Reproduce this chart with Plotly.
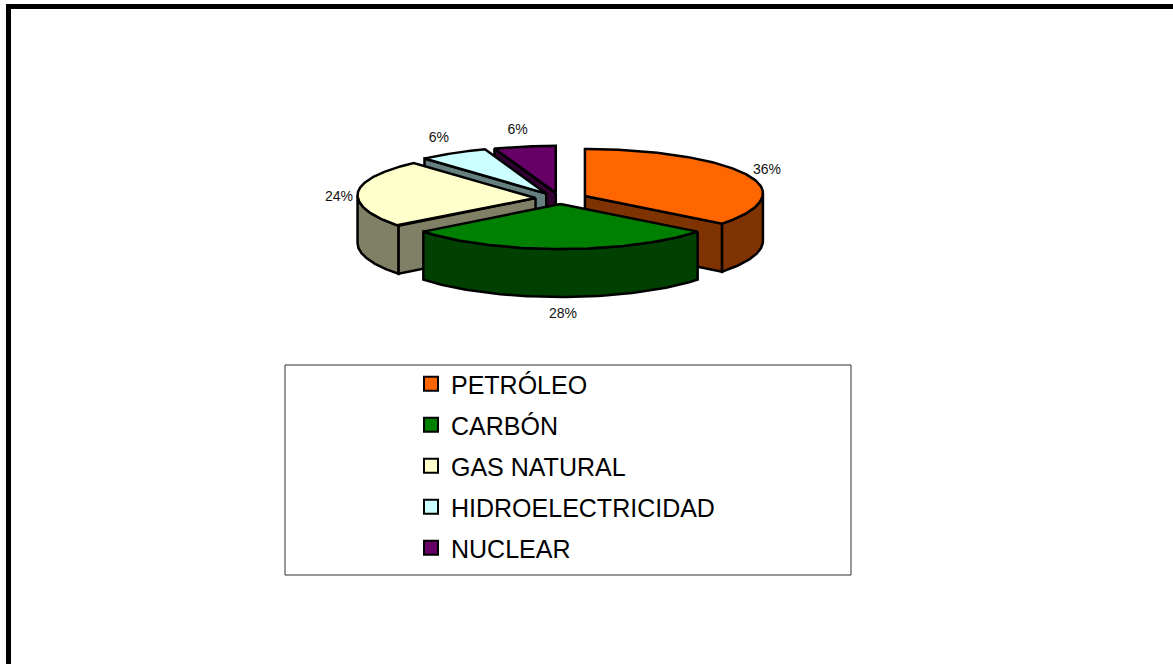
import numpy as np
import plotly.graph_objects as go

# ---- data ----
categories = ["PETRÓLEO", "CARBÓN", "GAS NATURAL", "HIDROELECTRICIDAD", "NUCLEAR"]
values = [36, 28, 24, 6.4, 5.6]

# ---- styles ----
top_colors = ["#FF6600", "#008000", "#FFFFCC", "#CCFFFF", "#660066"]
side_colors = ["#7F3300", "#004000", "#808066", "#668080", "#330033"]
W, H = 1173, 664
CX, CY = 560.5, 198.4      # pie centre
RX = 178                   # top ellipse radius, horizontal
RY_BACK, RY_FRONT = 44, 48 # perspective: the near half looks a little deeper
DEPTH = 48
RIM_SHIFT = -3             # apparent ellipse centre vs apex (perspective)
EXPLODE = [27, 27, 25, 27, 27]
K = 0.208
label_offsets = [(21, -4), (2.5, 65), (-19, 5), (-14, -15), (-7, -16)]
draw_order = [4, 3, 0, 2, 1]

fig = go.Figure()


def rad(d):
    return np.deg2rad(d)


def rim(ax, ay, theta):
    t = rad(np.asarray(theta, dtype=float))
    c = np.cos(t)
    return ax + RX * np.sin(t), ay + RIM_SHIFT - np.where(c > 0, RY_BACK, RY_FRONT) * c


def poly(xs, ys, fill):
    fig.add_trace(go.Scatter(x=list(xs), y=list(ys), mode="lines", fill="toself",
                             fillcolor=fill, line=dict(color="black", width=2.5),
                             showlegend=False, hoverinfo="skip"))


total = sum(values)
edges = np.concatenate([[0], np.cumsum(values)]) / total * 360
geo = []
for i in range(len(values)):
    a0, a1 = edges[i], edges[i + 1]
    mid = (a0 + a1) / 2
    ax = CX + EXPLODE[i] * np.sin(rad(mid))
    ay = CY - EXPLODE[i] * K * np.cos(rad(mid))
    geo.append((a0, a1, mid, ax, ay))

for i in draw_order:
    a0, a1, mid, ax, ay = geo[i]
    # radial walls that face the viewer
    for ang, visible in ((a0, -np.sin(rad(a0)) > 1e-6), (a1, np.sin(rad(a1)) > 1e-6)):
        if visible:
            rx_, ry_ = rim(ax, ay, ang)
            poly([ax, float(rx_), float(rx_), ax, ax],
                 [ay, float(ry_), float(ry_) + DEPTH, ay + DEPTH, ay], side_colors[i])
    # outer wall (front half of the ellipse only)
    lo, hi = max(a0, 90), min(a1, 270)
    if hi > lo:
        th = np.linspace(lo, hi, 80)
        xs, ys = rim(ax, ay, th)
        poly(np.concatenate([xs, xs[::-1], xs[:1]]),
             np.concatenate([ys, ys[::-1] + DEPTH, ys[:1]]), side_colors[i])
    # top face
    th = np.linspace(a0, a1, 120)
    xs, ys = rim(ax, ay, th)
    poly(np.concatenate([[ax], xs, [ax]]), np.concatenate([[ay], ys, [ay]]), top_colors[i])

# percentage labels
lx, ly, lt = [], [], []
for i, (a0, a1, mid, ax, ay) in enumerate(geo):
    px, py = rim(ax, ay, mid)
    lx.append(float(px) + label_offsets[i][0])
    ly.append(float(py) + label_offsets[i][1])
    lt.append(f"{round(values[i] / total * 100)}%")
fig.add_trace(go.Scatter(x=lx, y=ly, text=lt, mode="text", showlegend=False, hoverinfo="skip",
                         textfont=dict(family="Liberation Sans", size=14, color="#111111")))

# legend entries
for name, col in zip(categories, top_colors):
    fig.add_trace(go.Scatter(x=[None], y=[None], mode="markers", name=name, legendgroup=name,
                             marker=dict(symbol="square", size=14, color=col,
                                         line=dict(color="black", width=2))))

shapes = [
    # legend frame
    dict(type="rect", xref="x", yref="y", x0=285, x1=851, y0=365, y1=575,
         line=dict(color="#333333", width=1), fillcolor="rgba(0,0,0,0)", layer="below"),
    # thick page border (top and left only)
    dict(type="line", xref="x", yref="y", x0=6, x1=W, y0=6.5, y1=6.5, line=dict(color="black", width=5)),
    dict(type="line", xref="x", yref="y", x0=8.5, x1=8.5, y0=4, y1=H, line=dict(color="black", width=5)),
]

fig.update_layout(
    width=W, height=H, margin=dict(l=0, r=0, t=0, b=0),
    paper_bgcolor="white", plot_bgcolor="white",
    xaxis=dict(range=[0, W], visible=False, fixedrange=True),
    yaxis=dict(range=[H, 0], visible=False, fixedrange=True),
    shapes=shapes,
    legend=dict(x=411 / W, y=1 - 361 / H, xanchor="left", yanchor="top",
                bgcolor="rgba(0,0,0,0)", borderwidth=0, tracegroupgap=5.5,
                font=dict(family="Liberation Sans", size=25, color="black"),
                itemclick=False, itemdoubleclick=False),
    hovermode=False,
)
fig.write_html("out.html", config={"displayModeBar": False},
               post_script="document.body.style.margin='0';")
